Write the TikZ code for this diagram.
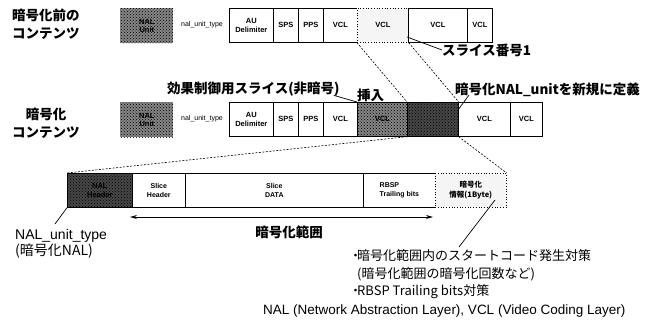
\documentclass[tikz,border=0pt]{standalone}
\usepackage{fontspec}
\setmainfont{Liberation Sans}
\newfontfamily\jp{Noto Sans CJK JP}
\usetikzlibrary{patterns,arrows.meta}
\begin{document}
\begin{tikzpicture}[x=1pt,y=-1pt,
  box/.style={draw, line width=0.7pt, inner sep=0pt, anchor=north west, align=center,
    minimum height=34pt, font=\bfseries\fontsize{7.5}{8.5}\selectfont},
  sbox/.style={box, font=\bfseries\fontsize{7}{9}\selectfont},
  hatchA/.style={fill=black!48, postaction={pattern=crosshatch dots, pattern color=black}},
  hatchB/.style={fill=black!72, postaction={pattern=crosshatch dots, pattern color=black}},
  light/.style={fill=gray!8, dotted},
  conn/.style={line width=0.6pt, dash pattern=on 2pt off 1.5pt},
  lead/.style={line width=0.7pt},
  jl/.style={font=\jp\bfseries\fontsize{13.5}{18}\selectfont, inner sep=0pt, align=center},
  jm/.style={font=\jp\fontsize{13}{16}\selectfont, inner sep=0pt, anchor=west},
  nut/.style={font=\fontsize{7}{8}\selectfont, inner sep=0pt}
]
\useasboundingbox (0,0) rectangle (656,322);

% ---- row 1 ----
\node[jl] (t1) at (46,24) {暗号化前の\\コンテンツ};
\node[box, draw=none, hatchA, minimum width=53pt, minimum height=35pt] (n1) at (120,8) {NAL\\Unit};
\node[nut] (u1) at (202,25) {nal\_unit\_type};
\node[box, minimum width=44pt] (au1) at (229,8) {AU\\Delimiter};
\node[box, minimum width=25pt] (sps1) at (273,8) {SPS};
\node[box, minimum width=25pt] (pps1) at (298,8) {PPS};
\node[box, minimum width=34pt] (va1) at (323,8) {VCL};
\node[box, light, minimum width=51pt] (vb1) at (357,8) {VCL};
\node[box, minimum width=59pt] (vc1) at (408,8) {VCL};
\node[box, minimum width=25pt] (vd1) at (467,8) {VCL};
\node[jl, anchor=west] (sl) at (442,50) {スライス番号1};
\draw[lead] (407,37) -- (sl.west);

% ---- row 2 ----
\node[jl] (t2) at (46,123) {暗号化\\コンテンツ};
\node[box, draw=none, hatchA, minimum width=53pt, minimum height=35pt] (n2) at (120,102) {NAL\\Unit};
\node[nut] (u2) at (202,119) {nal\_unit\_type};
\node[box, minimum width=44pt] (au2) at (229,102) {AU\\Delimiter};
\node[box, minimum width=25pt] (sps2) at (273,102) {SPS};
\node[box, minimum width=25pt] (pps2) at (298,102) {PPS};
\node[box, minimum width=34pt] (va2) at (323,102) {VCL};
\node[box, hatchA, minimum width=50pt] (ins) at (357,102) {VCL};
\node[box, hatchB, minimum width=51pt] (enc) at (407,102) {};
\node[box, minimum width=52pt] (vb2) at (458,102) {VCL};
\node[box, minimum width=32pt] (vc2) at (510,102) {VCL};

\node[jl, anchor=west] (eff) at (167,89) {効果制御用スライス(非暗号)};
\node[jl, anchor=west] (sou) at (357,95) {挿入};
\node[jl, anchor=west] (newd) at (455,90) {暗号化NAL\_unitを新規に定義};
\draw[lead] (eff.south east) ++(-6,-1) coordinate (e1) -- (ins.north west);
\draw[lead] (newd.south west) ++(14,-2) coordinate (e2) -- ([yshift=-7pt]enc.north east);

\draw[conn] (vb1.south west) -- (enc.north west);
\draw[conn] (vb1.south east) -- (enc.north east);

% ---- row 3 ----
\node[box, hatchB, minimum width=65pt] (hdr) at (67,173) {NAL\\Header};
\node[sbox, minimum width=53pt] (sh) at (132,173) {Slice\\Header};
\node[sbox, minimum width=178pt] (sd) at (185,173) {Slice\\DATA};
\node[sbox, minimum width=72pt] (rb) at (363,173) {\begin{tabular}{@{}l@{}}RBSP\\Trailing bits\end{tabular}};
\node[sbox, light, minimum width=71pt, font=\jp\bfseries\fontsize{7.5}{10}\selectfont] (ei) at (435,173) {暗号化\\情報(1Byte)};

\draw[conn] (enc.south west) -- (hdr.north west);
\draw[conn] (enc.south east) -- (ei.north east);

\coordinate (al) at (130,217);
\coordinate (ar) at (433,217);
\draw[line width=0.8pt, {Stealth[length=7pt,width=4pt]}-{Stealth[length=7pt,width=4pt]}] (al) -- (ar);
\node[jl] (rng) at (289,232) {暗号化範囲};

\node[font=\fontsize{14}{16}\selectfont, inner sep=0pt, anchor=north west, align=left] (nt) at (15,229) {NAL\_unit\_type\\{\jp (暗号化NAL)}};
\draw[lead] (55,224) -- (hdr.south west);

\node[jm] (b1) at (349,256) {・\hspace{-5pt}暗号化範囲内のスタートコード発生対策};
\node[jm] (b2) at (357,274) {(暗号化範囲の暗号化回数など)};
\node[jm] (b3) at (349,292) {・\hspace{-5pt}RBSP Trailing bits対策};
\draw[lead] (459,247) -- (495,200);

\node[font=\fontsize{13.5}{15}\selectfont, inner sep=0pt, anchor=west] (leg) at (263,311) {NAL (Network Abstraction Layer), VCL (Video Coding Layer)};
\end{tikzpicture}
\end{document}
